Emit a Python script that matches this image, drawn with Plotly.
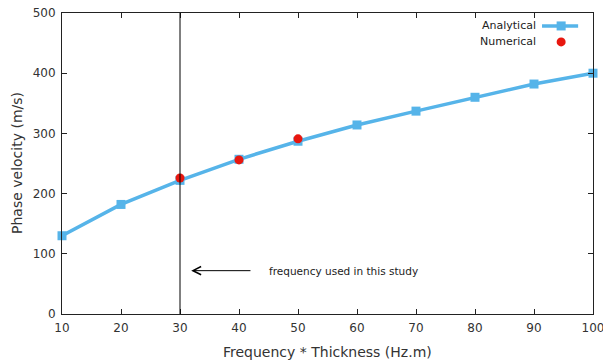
import plotly.graph_objects as go

freq = [10, 20, 30, 40, 50, 60, 70, 80, 90, 100]
analytical = [130, 182, 222, 257, 287, 314, 337, 360, 382, 400]
num_freq = [30, 40, 50]
numerical = [226, 256, 291]
study_freq = 30
x_ticks = [10, 20, 30, 40, 50, 60, 70, 80, 90, 100]
y_ticks = [0, 100, 200, 300, 400, 500]

BLUE = "#56B4E9"
RED = "#E8170F"
FONT = "DejaVu Sans"

fig = go.Figure()
fig.add_trace(go.Scatter(x=freq, y=analytical, mode="lines+markers",
                         line=dict(color=BLUE, width=3.5),
                         marker=dict(symbol="square", size=9, color=BLUE),
                         name="Analytical", showlegend=False, cliponaxis=False))
fig.add_trace(go.Scatter(x=num_freq, y=numerical, mode="markers",
                         marker=dict(symbol="circle", size=9, color=RED),
                         name="Numerical", showlegend=False, cliponaxis=False))

# vertical line at study frequency
fig.add_shape(type="line", x0=study_freq, x1=study_freq, y0=0, y1=500,
              xref="x", yref="y", line=dict(color="black", width=1))
# arrow + label
fig.add_annotation(x=31.9, y=72, ax=42.2, ay=72, axref="x", ayref="y",
                   xref="x", yref="y", showarrow=True, arrowhead=5, arrowsize=1.6,
                   arrowwidth=1, arrowcolor="black", text="")
fig.add_annotation(x=0.386, y=72, xref="paper", yref="y", text="frequency used in this study",
                   showarrow=False, xanchor="left", yanchor="middle",
                   font=dict(family=FONT, size=10.5, color="#222"))

# manual legend (text right, sample left->right)
fig.add_annotation(x=0.896, y=0.957, xref="paper", yref="paper", text="Analytical",
                   showarrow=False, xanchor="right", yanchor="middle",
                   font=dict(family=FONT, size=11, color="#222"))
fig.add_annotation(x=0.896, y=0.904, xref="paper", yref="paper", text="Numerical",
                   showarrow=False, xanchor="right", yanchor="middle",
                   font=dict(family=FONT, size=11, color="#222"))
fig.add_shape(type="line", x0=0.904, x1=0.972, y0=0.957, y1=0.957, xref="paper", yref="paper",
              line=dict(color=BLUE, width=3.5))
fig.add_shape(type="rect", x0=0.9315, x1=0.9485, y0=0.942, y1=0.972, xref="paper", yref="paper",
              line=dict(width=0), fillcolor=BLUE)
fig.add_shape(type="circle", x0=0.9315, x1=0.9485, y0=0.889, y1=0.919, xref="paper", yref="paper",
              line=dict(width=0), fillcolor=RED)

# axis titles as annotations for exact placement
fig.add_annotation(x=0.5, y=0, xref="paper", yref="paper", yshift=-38,
                   text="Frequency * Thickness (Hz.m)", showarrow=False,
                   xanchor="center", yanchor="middle",
                   font=dict(family=FONT, size=14, color="#333"))
fig.add_annotation(x=0, y=0.5, xref="paper", yref="paper", xshift=-45.5,
                   text="Phase velocity (m/s)", showarrow=False, textangle=-90,
                   xanchor="center", yanchor="middle",
                   font=dict(family=FONT, size=14, color="#333"))

axis_common = dict(showgrid=False, zeroline=False, showline=True, linecolor="#222",
                   linewidth=1, mirror="ticks", ticks="inside", ticklen=5,
                   tickcolor="#222", automargin=False, ticklabeloverflow="allow",
                   ticklabelstandoff=3,
                   tickfont=dict(family=FONT, size=12, color="#333"))

fig.update_xaxes(range=[10, 100], tickvals=x_ticks, **axis_common)
fig.update_yaxes(range=[0, 500], tickvals=y_ticks, **axis_common)

fig.update_layout(width=603, height=362, margin=dict(l=62, r=10, t=13, b=48),
                  plot_bgcolor="white", paper_bgcolor="white",
                  font=dict(family=FONT))
# remove the page's default body margin so the figure fills the window exactly
fig.write_html("out.html", config={"displayModeBar": False},
               post_script="document.body.style.margin='0';")
